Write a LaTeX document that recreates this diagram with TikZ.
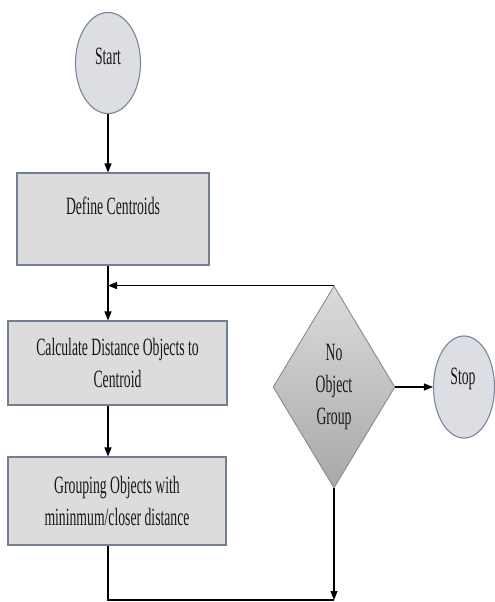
\documentclass[tikz,border=0pt]{standalone}
\usepackage{fontspec}
\usetikzlibrary{shapes.geometric,arrows.meta}
\newfontfamily\bodyfont[FakeStretch=0.55]{Liberation Serif}
\definecolor{boxfill}{HTML}{DCDCDC}
\definecolor{boxedge}{HTML}{72808F}
\definecolor{termfill}{HTML}{DCDEE4}
\definecolor{termedge}{HTML}{7A8599}
\definecolor{diaedge}{HTML}{8A8A8A}
\begin{document}
\begin{tikzpicture}[x=1bp,y=-1bp,
  txt/.style={font=\bodyfont\fontsize{25}{32}\selectfont, align=center, inner sep=0pt,
    text=black!90},
  procbox/.style={draw=boxedge, fill=boxfill, line width=1.1bp, inner sep=0pt,
    txt},
  termnode/.style={ellipse, draw=termedge, fill=termfill, line width=1.1bp, inner sep=0pt},
  decision/.style={diamond, draw=diaedge, line width=0.9bp, top color=gray!28,
    bottom color=gray!68, inner sep=0pt, txt},
  link/.style={line width=1.2bp, draw=black},
  flow/.style={link, -{Triangle[length=9bp,width=7bp]}}
]
\useasboundingbox (0,0) rectangle (495,602);

% terminals
\node (start) [termnode, minimum width=65bp, minimum height=101bp] at (108,63) {};
\node (starttext) [txt] at (108,56) {Start};
\node (stop) [termnode, minimum width=61bp, minimum height=102bp] at (464,387) {};
\node (stoptext) [txt] at (463,379) {Stop};

% process steps
\node (define) [procbox, minimum width=192bp, minimum height=92bp] at (113,219) {};
\node (definetext) [txt] at (113,206) {Define Centroids};
\node (calc) [procbox, minimum width=219bp, minimum height=84bp] at (117.5,363)
  {Calculate Distance Objects to\\ Centroid};
\node (group) [procbox, minimum width=218bp, minimum height=88bp] at (117,501)
  {Grouping Objects with\\ mininmum/closer distance};

% decision
\node (check) [decision, minimum width=100bp, minimum height=202bp] at (334,387)
  {No\\ Object\\ Group};

% routing points
\coordinate (spine) at (108,0);
\coordinate (bottom) at (334,600);

% connectors
\draw[flow] (start.south) -- (start.south |- define.north);
\draw[flow] (define.south -| spine) -- (calc.north -| spine);
\draw[flow] (calc.south -| spine) -- (group.north -| spine);
\draw[flow] (check.north) -- (check.north -| spine);
\draw[flow] (check.east) -- (stop.west);
\draw[link] (group.south -| spine) |- (bottom);
\draw[flow] (check.south) -- (bottom);
\end{tikzpicture}
\end{document}
